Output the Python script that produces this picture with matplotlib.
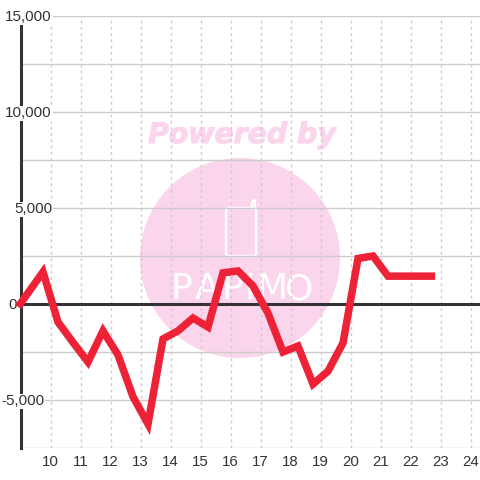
import matplotlib
matplotlib.use('Agg')
import matplotlib.pyplot as plt
import matplotlib.patheffects as pe
from matplotlib.patches import Circle, FancyBboxPatch

plt.rcParams['font.family'] = ['Liberation Sans', 'DejaVu Sans']

hours = [8.92, 9.75, 10.25, 10.75, 11.25, 11.75, 12.25, 12.75, 13.25, 13.75, 14.25, 14.75,
         15.25, 15.75, 16.25, 16.75, 17.25, 17.75, 18.25, 18.75, 19.25, 19.75, 20.25,
         20.75, 21.25, 21.75, 22.25, 22.82]
values = [-150, 1670, -940, -2000, -3020, -1400, -2650, -4830, -6250, -1820, -1400, -730,
          -1200, 1620, 1720, 940, -470, -2500, -2190, -4170, -3500, -2030, 2370,
          2500, 1450, 1450, 1450, 1450]

x_ticks = list(range(10, 25))
y_major = [15000, 10000, 5000, 0, -5000]
y_grid = [15000, 12500, 10000, 7500, 5000, 2500, -2500, -5000, -7500]
y_labels = ['15,000', '10,000', '5,000', '0', '-5,000']
y_label_right = [52, 52, 52, 17, 44]   # px, they don't all line up in the original
logo_letters = ['P', 'A', 'P', 'I', 'M', 'O']
logo_centers = [181, 207, 232, 250, 272, 299]

TEXT = '#333333'
GRID = '#cccccc'
PINK = '#fbd5ec'
RED = '#ee2236'

fig = plt.figure(figsize=(4.8, 4.8), dpi=100)

# watermark layer, in pixels
bg = fig.add_axes([0, 0, 1, 1], zorder=0)
bg.set_xlim(0, 480)
bg.set_ylim(480, 0)
bg.axis('off')
bg.add_patch(Circle((240, 258), 100, color=PINK, lw=0))
bg.text(242, 135, 'Powered by', color=PINK, fontsize=20.4, family='DejaVu Sans',
        weight='bold', style='italic', ha='center', va='center',
        path_effects=[pe.withStroke(linewidth=0.8, foreground=PINK)])
bg.add_patch(FancyBboxPatch((226, 208), 30, 48, boxstyle='round,pad=0,rounding_size=3',
                            fc='none', ec='white', lw=1.6))
bg.plot([252, 252, 255, 255], [208, 202, 200, 208], color='white', lw=1.6)
for letter, cx in zip(logo_letters, logo_centers):
    bg.text(cx, 289, letter, color='white', fontsize=26, family='Liberation Sans Narrow',
            ha='center', va='center')

ax = fig.add_axes([20.5 / 480, 32 / 480, 459.5 / 480, 432 / 480], zorder=1)
ax.patch.set_alpha(0)
ax.set_xlim(9, 9 + 459.5 / 30)
ax.set_ylim(-7500, 15000)
for s in ax.spines.values():
    s.set_visible(False)
ax.set_xticks(x_ticks)
ax.set_yticks([])
ax.tick_params(axis='x', length=0, pad=5, labelsize=10.8, labelcolor=TEXT)

for v in y_grid:
    ax.axhline(v, color=GRID, lw=1, zorder=1)
for h in x_ticks:
    ax.axvline(h, color=GRID, lw=1, ls=(0, (2, 2.5)), zorder=1)

ax.axvline(9, color=TEXT, lw=2.2, zorder=2, clip_on=False)
ax.axhline(0, color=TEXT, lw=2.2, zorder=2)

ax.plot(hours, values, color=RED, lw=5.4, solid_joinstyle='miter', solid_capstyle='butt',
        zorder=4, clip_on=False)

# y labels sit on the plot with a white box that hides the grid and the axis
for v, lab, right in zip(y_major, y_labels, y_label_right):
    ax.annotate(lab, xy=(right, v), xycoords=('figure pixels', 'data'),
                xytext=(0, -1), textcoords='offset points',
                ha='right', va='center', fontsize=11, color=TEXT, zorder=3,
                bbox=dict(fc='white', ec='none', pad=0.5))

fig.savefig('out.png', dpi=100, facecolor='white')
